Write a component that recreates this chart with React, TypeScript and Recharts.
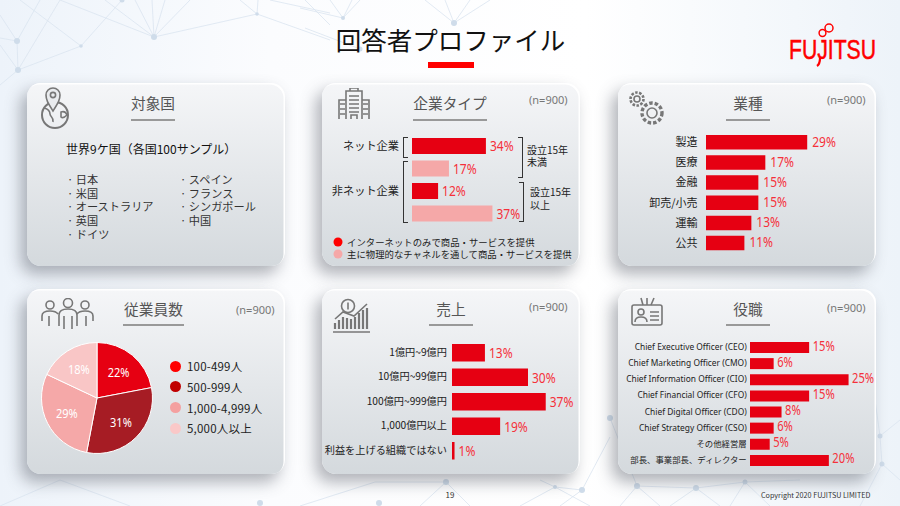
import React from "react";
import { BarChart, Bar, XAxis, YAxis, Cell, LabelList, PieChart, Pie } from "recharts";

const RED = "#E60012";
const PINK = "#F5A8A8";
const LABEL_RED = "#F5303A";
const FONT = '"Noto Sans CJK JP", sans-serif';
const LATIN = '"Noto Sans", sans-serif';

// 対象国
const countriesLeft = ["日本", "米国", "オーストラリア", "英国", "ドイツ"];
const countriesRight = ["スペイン", "フランス", "シンガポール", "中国"];

// 企業タイプ
const typeCategories = ["設立15年未満・ネット企業", "設立15年未満・非ネット企業", "設立15年以上・ネット企業", "設立15年以上・非ネット企業"];
const typeValues = [34, 17, 12, 37];
const typeColors = [RED, PINK, RED, PINK];

// 業種
const industryCategories = ["製造", "医療", "金融", "卸売/小売", "運輸", "公共"];
const industryValues = [29, 17, 15, 15, 13, 11];

// 従業員数
const employeeCategories = ["100-499人", "500-999人", "1,000-4,999人", "5,000人以上"];
const employeeValues = [22, 31, 29, 18];
const employeeColors = [RED, "#A61C24", "#F5A8A8", "#F9C6C6"];
const employeeDots = ["#FF0000", "#C00000", "#F4A0A0", "#FAC8C8"];

// 売上
const salesCategories = ["1億円~9億円", "10億円~99億円", "100億円~999億円", "1,000億円以上", "利益を上げる組織ではない"];
const salesValues = [13, 30, 37, 19, 1];

// 役職
const roleCategories = [
  "Chief Executive Officer (CEO)",
  "Chief Marketing Officer (CMO)",
  "Chief Information Officer (CIO)",
  "Chief Financial Officer (CFO)",
  "Chief Digital Officer (CDO)",
  "Chief Strategy Officer (CSO)",
  "その他経営層",
  "部長、事業部長、ディレクター",
];
const roleValues = [15, 6, 25, 15, 8, 6, 5, 20];

const toRows = (cats: string[], vals: number[]) => cats.map((name, i) => ({ name, value: vals[i] }));

function Card({ x, y, h = 183, title, titleX, lineW = 44, lineTop = 36, n = true, nX = 0, nTop = 9, children }: any) {
  return (
    <div
      style={{
        position: "absolute",
        left: x,
        top: y,
        width: 258,
        height: h,
        borderRadius: 14,
        background: "linear-gradient(#f5f6f8, #d4d9dd)",
        boxShadow: "inset -1.5px 1.5px 0 #fff, -6px 8px 16px rgba(70,75,85,0.42)",
      }}
    >
      <div
        style={{
          position: "absolute",
          left: titleX - 50,
          width: 100,
          top: 10,
          textAlign: "center",
          fontSize: 14.7,
          color: "#555",
          lineHeight: "20px",
        }}
      >
        {title}
      </div>
      <div style={{ position: "absolute", left: titleX - lineW / 2, width: lineW, top: lineTop, height: 1.5, background: "#999" }} />
      {n && (
        <div style={{ position: "absolute", left: nX, top: nTop, fontSize: 11, color: "#777", fontFamily: LATIN }}>
          (n=900)
        </div>
      )}
      {children}
    </div>
  );
}

function PercentLabel({ x, y, width, height, value, fontSize = 15, gap = 4, dy = 0 }: any) {
  return (
    <text
      transform={`translate(${x + width + gap},${y + height / 2 + fontSize * 0.36 + dy}) scale(0.8,1)`}
      fill={LABEL_RED}
      fontSize={fontSize}
      fontFamily={LATIN}
    >
      {value}%
    </text>
  );
}

function AxisTick({ x, y, payload, size, gap }: any) {
  const text = payload.value as string;
  const latin = /^[\x00-\x7F]+$/.test(text);
  return (
    <text
      x={x - gap}
      y={y + size * 0.36}
      textAnchor="end"
      fontSize={size}
      fill="#222"
      fontFamily={latin ? LATIN : FONT}
    >
      {text}
    </text>
  );
}

function HBars({ left, top, width, height, axisWidth, max, rows, barSize, tickSize: fontSize, tickGap, colors, labelSize, labelGap, labelDy }: any) {
  return (
    <div style={{ position: "absolute", left, top }}>
      <BarChart
        width={width}
        height={height}
        layout="vertical"
        data={rows}
        margin={{ top: 0, right: 0, bottom: 0, left: 0 }}
      >
        <XAxis type="number" hide domain={[0, max]} />
        <YAxis
          type="category"
          dataKey="name"
          hide={!axisWidth}
          width={axisWidth}
          axisLine={false}
          tickLine={false}
          tickSize={0}
          tickMargin={0}
          interval={0}
          tick={(p: any) => <AxisTick {...p} size={fontSize} gap={tickGap} />}
        />
        <Bar dataKey="value" barSize={barSize} fill={RED} isAnimationActive={false}>
          {colors && rows.map((r: any, i: number) => <Cell key={r.name} fill={colors[i]} />)}
          <LabelList
            dataKey="value"
            content={(p: any) => <PercentLabel {...p} fontSize={labelSize} gap={labelGap} dy={labelDy} />}
          />
        </Bar>
      </BarChart>
    </div>
  );
}

const iconStroke = { fill: "none", stroke: "#777", strokeWidth: 1.6 };

function Background() {
  return (
    <svg width={900} height={506} style={{ position: "absolute", left: 0, top: 0 }}>
      <defs>
        <linearGradient id="bg" x1="0" y1="0" x2="1" y2="0">
          <stop offset="0" stopColor="#edf3fa" />
          <stop offset="0.3" stopColor="#fbfcfe" />
          <stop offset="0.65" stopColor="#ffffff" />
          <stop offset="1" stopColor="#edf3f9" />
        </linearGradient>
      </defs>
      <rect width={900} height={506} fill="url(#bg)" />
      <g stroke="#dbe5f0" strokeWidth={0.8} fill="none">
        <path d="M154 37L60 0M154 37L105 0M154 37L135 0M154 37L152 0M154 37L165 0M154 37L190 0M154 37L257 14L330 40M257 14L240 0M257 14L258 0M270 0L330 13M305 0L330 25" />
        <path d="M81 46L20 0M81 46L122 0M81 46L18 70L60 0M18 70L0 45M18 70L0 85M18 70L17 41L40 0M17 41L0 15M17 41L0 38" />
        <path d="M343 18L330 0M343 18L352 0M343 18L360 0M343 18L300 8M454 23L425 0M454 23L445 0M454 23L470 0M454 23L490 0M360 49L305 28" />
        <path d="M0 506L60 480L130 506M446 482L375 482L300 506M446 482L420 506M446 482L470 506M555 487L520 506M555 487L582 490L610 437M555 487L590 506M582 490L560 506M555 487L540 480" />
        <path d="M637 486L696 488L745 482M637 486L610 418M637 486L620 506M637 486L660 506M696 488L670 506M696 488L720 506M745 482L770 506M745 482L730 506M880 436L900 420M880 436L882 464L900 480M880 436L875 400M882 464L860 506M745 482L800 480" />
      </g>
      <g fill="#cfdcea">
        <circle cx={154} cy={37} r={3} />
        <circle cx={257} cy={14} r={1.8} />
        <circle cx={81} cy={46} r={1.8} />
        <circle cx={17} cy={41} r={3} />
        <circle cx={18} cy={70} r={3} />
        <circle cx={122} cy={0} r={2.5} />
        <circle cx={343} cy={18} r={2} />
        <circle cx={454} cy={23} r={3} />
        <circle cx={360} cy={49} r={2.5} />
        <circle cx={260} cy={503} r={3} />
        <circle cx={379} cy={503} r={3} />
        <circle cx={446} cy={482} r={3} />
        <circle cx={555} cy={487} r={2} />
        <circle cx={582} cy={490} r={3} />
        <circle cx={610} cy={418} r={3} />
        <circle cx={637} cy={486} r={3} />
        <circle cx={696} cy={488} r={3} />
        <circle cx={745} cy={482} r={2.5} />
        <circle cx={880} cy={436} r={2.5} />
        <circle cx={882} cy={464} r={2.5} />
      </g>
    </svg>
  );
}

function FujitsuLogo() {
  return (
    <svg width={900} height={80} style={{ position: "absolute", left: 0, top: 0 }}>
      <text
        x={789}
        y={59}
        fill="#F00"
        stroke="#F00"
        strokeWidth={0.5}
        fontSize={27}
        fontFamily='"Liberation Sans", sans-serif'
        textLength={87}
        lengthAdjust="spacingAndGlyphs"
      >
        FUJITSU
      </text>
      <g fill="none" stroke="#F00" strokeWidth={1.5}>
        <circle cx={822.5} cy={33} r={3.4} />
        <circle cx={829} cy={28} r={4} />
        <path d="M820 58Q820 64 817 66" strokeWidth={2.2} />
      </g>
    </svg>
  );
}

export default function App() {
  const bracket = (l: number, t: number, w: number, h: number, side: "left" | "right") => (
    <div
      style={{
        position: "absolute",
        left: l,
        top: t,
        width: w,
        height: h,
        boxSizing: "border-box",
        borderTop: "1px solid #333",
        borderBottom: "1px solid #333",
        [side === "left" ? "borderLeft" : "borderRight"]: "1px solid #333",
      }}
    />
  );

  return (
    <div style={{ position: "fixed", left: 0, top: 0, width: 900, height: 506, overflow: "hidden", fontFamily: FONT }}>
      <Background />

      <div style={{ position: "absolute", left: 300, width: 301, top: 20, textAlign: "center", fontSize: 25.5, lineHeight: "38px", color: "#111" }}>
        回答者プロファイル
      </div>
      <div style={{ position: "absolute", left: 428, top: 62, width: 46, height: 5.5, background: "#FF0000" }} />
      <FujitsuLogo />

      {/* 対象国 */}
      <Card x={27} y={83} title="対象国" titleX={126} n={false}>
        <svg width={34} height={46} style={{ position: "absolute", left: 12, top: 3 }}>
          <circle cx={16} cy={29} r={13} {...iconStroke} strokeWidth={2} />
          <path d="M5 22c4 1 6 3 6 6s4 3 3 8M22 26c3-1 5 0 6 3-2 2-4 4-6 2z" {...iconStroke} />
          <path d="M14 25C9 17 7 14 7 9a7 7 0 0 1 14 0c0 5-2 8-7 16z" {...iconStroke} fill="#e9ebee" />
          <circle cx={14} cy={9} r={2.6} {...iconStroke} />
        </svg>
        <div style={{ position: "absolute", left: 39, top: 56.5, fontSize: 12, color: "#111", whiteSpace: "nowrap" }}>世界9ケ国（各国100サンプル）</div>
        <div style={{ position: "absolute", left: 40, top: 90, fontSize: 11.2, lineHeight: "13.7px", color: "#333" }}>
          {countriesLeft.map((c) => (
            <div key={c}>· {c}</div>
          ))}
        </div>
        <div style={{ position: "absolute", left: 153, top: 90, fontSize: 11.2, lineHeight: "13.7px", color: "#333" }}>
          {countriesRight.map((c) => (
            <div key={c}>· {c}</div>
          ))}
        </div>
      </Card>

      {/* 企業タイプ */}
      <Card x={322} y={83} title="企業タイプ" titleX={128} lineW={74} nX={207}>
        <svg width={34} height={32} style={{ position: "absolute", left: 16, top: 5 }}>
          <path d="M1 31V12H8V31M8 31V3H24V31M24 12H31V31M12 3V0H20V3M11 8H21M11 12H21M11 16H21M11 20H21M11 24H21M2 16H7M2 21H7M2 26H7M25 16H30M25 21H30M25 26H30M13 31V27H19V31" {...iconStroke} />
        </svg>
        <div style={{ position: "absolute", left: 0, width: 77, top: 54, textAlign: "right", fontSize: 11.2, color: "#222" }}>ネット企業</div>
        <div style={{ position: "absolute", left: 0, width: 77, top: 99, textAlign: "right", fontSize: 11.2, color: "#222" }}>非ネット企業</div>
        {bracket(81, 53.7, 5, 21, "left")}
        {bracket(81, 77.7, 5, 62.5, "left")}
        {bracket(196, 53.7, 5, 41, "right")}
        {bracket(197, 99, 5, 40, "right")}
        <div style={{ position: "absolute", left: 205, top: 60.5, fontSize: 10, lineHeight: "12.7px", color: "#222", whiteSpace: "nowrap" }}>
          設立15年
          <br />
          未満
        </div>
        <div style={{ position: "absolute", left: 208, top: 103, fontSize: 10, lineHeight: "12.7px", color: "#222", whiteSpace: "nowrap" }}>
          設立15年
          <br />
          以上
        </div>
        <svg width={10} height={24} style={{ position: "absolute", left: 11, top: 154 }}>
          <circle cx={5} cy={5} r={4.5} fill="#FF0000" />
          <circle cx={5} cy={17} r={4.5} fill="#F5A8A8" />
        </svg>
        <div style={{ position: "absolute", left: 25, top: 153, fontSize: 9.4, lineHeight: "12px", color: "#222", whiteSpace: "nowrap" }}>
          インターネットのみで商品・サービスを提供
          <br />
          主に物理的なチャネルを通して商品・サービスを提供
        </div>
      </Card>
      <HBars left={411.5} top={135} width={150} height={90} max={69} rows={toRows(typeCategories, typeValues)} barSize={16} colors={typeColors} labelSize={15} labelGap={4} labelDy={0} />

      {/* 業種 */}
      <Card x={618} y={83} title="業種" titleX={130} nX={209}>
        <svg width={42} height={40} style={{ position: "absolute", left: 10, top: 7 }}>
          <circle cx={9} cy={9} r={6.5} {...iconStroke} strokeDasharray="2.5 1.5" strokeWidth={2.6} />
          <circle cx={9} cy={9} r={3} {...iconStroke} />
          <circle cx={24} cy={23} r={10} {...iconStroke} strokeDasharray="3.5 2" strokeWidth={3.4} />
          <circle cx={24} cy={23} r={5} {...iconStroke} />
        </svg>
      </Card>
      <HBars left={636} top={131.6} width={244.5} height={121} axisWidth={70} max={50} rows={toRows(industryCategories, industryValues)} barSize={14.5} tickSize={11} tickGap={8.5} labelSize={15} labelGap={5} labelDy={-1} />

      {/* 従業員数 */}
      <Card x={27} y={289} h={185} title="従業員数" titleX={126.5} lineW={61} lineTop={35} nX={209} nTop={13}>
        <svg width={54} height={32} style={{ position: "absolute", left: 14, top: 9 }}>
          <circle cx={9} cy={7} r={4} {...iconStroke} />
          <circle cx={27} cy={5} r={4.5} {...iconStroke} />
          <circle cx={44} cy={7} r={4} {...iconStroke} />
          <path d="M1 23V18Q1 13 9 13Q15 13 17 16M18 28V17Q18 11 27 11Q36 11 36 17V28M52 23V18Q52 13 44 13Q38 13 36 16M8 18V28M23 18V31M31 18V31M45 18V28" {...iconStroke} />
        </svg>
        <div style={{ position: "absolute", left: 13, top: 52 }}>
          <PieChart width={114} height={114} margin={{ top: 0, right: 0, bottom: 0, left: 0 }}>
            <Pie
              data={toRows(employeeCategories, employeeValues).map((r, i) => ({ ...r, fill: employeeColors[i] }))}
              dataKey="value"
              cx="50%"
              cy="50%"
              outerRadius={55.5}
              startAngle={90}
              endAngle={-270}
              stroke="#fff"
              strokeWidth={1}
              isAnimationActive={false}
              labelLine={false}
              label={({ cx, cy, midAngle, outerRadius, value }: any) => {
                const r = outerRadius * 0.61;
                const a = (-midAngle * Math.PI) / 180;
                return (
                  <text
                    transform={`translate(${cx + r * Math.cos(a)},${cy + r * Math.sin(a)}) scale(0.85,1)`}
                    fill="#fff"
                    fontSize={13}
                    fontFamily={LATIN}
                    textAnchor="middle"
                    dominantBaseline="central"
                  >
                    {value}%
                  </text>
                );
              }}
            />
          </PieChart>
        </div>
        {employeeCategories.map((c, i) => (
          <div key={c} style={{ position: "absolute", left: 142.5, top: 71.3 + i * 20.6, height: 12, display: "flex", alignItems: "center" }}>
            <span style={{ width: 11, height: 11, borderRadius: "50%", background: employeeDots[i], marginRight: 6.5 }} />
            <span style={{ fontSize: 11.5, color: "#222", whiteSpace: "nowrap", letterSpacing: 0.2 }}>{c}</span>
          </div>
        ))}
      </Card>

      {/* 売上 */}
      <Card x={322} y={289} h={185} title="売上" titleX={129} lineTop={35} nX={207} nTop={10}>
        <svg width={40} height={36} style={{ position: "absolute", left: 10, top: 9 }}>
          <circle cx={16} cy={8} r={6.5} {...iconStroke} />
          <path d="M16 4.5V11.5" {...iconStroke} />
          <path d="M3 21L11 14L22 18L35 6" {...iconStroke} />
          <path d="M3 31V25M7 31V22M11 31V19M15 31V20M19 31V21M23 31V19M27 31V15M31 31V12M35 31V10" {...iconStroke} strokeWidth={2.2} />
          <path d="M1 34H38" {...iconStroke} />
        </svg>
      </Card>
      <HBars left={322} top={339.7} width={282} height={122.5} axisWidth={130} max={60} rows={toRows(salesCategories, salesValues)} barSize={17.5} tickSize={10.2} tickGap={5} labelSize={15} labelGap={4} labelDy={0} />

      {/* 役職 */}
      <Card x={618} y={289} h={185} title="役職" titleX={130} lineTop={35} nX={209} nTop={11}>
        <svg width={34} height={30} style={{ position: "absolute", left: 13, top: 8 }}>
          <rect x={1} y={8} width={30} height={20} rx={2} {...iconStroke} />
          <path d="M12 8L10 1M16 8V1M20 8L23 1" {...iconStroke} />
          <circle cx={10} cy={15} r={3} {...iconStroke} />
          <path d="M4 25Q4 20 10 20Q16 20 16 25M19 15H28M19 19H28M19 23H28" {...iconStroke} />
        </svg>
      </Card>
      <HBars left={622} top={338.6} width={266} height={129} axisWidth={128} max={35} rows={toRows(roleCategories, roleValues)} barSize={11} tickSize={8.4} tickGap={3.3} labelSize={14} labelGap={3.5} labelDy={-2} />

      <div style={{ position: "absolute", left: 440, width: 20, top: 489, textAlign: "center", fontSize: 8, color: "#333" }}>19</div>
      <div style={{ position: "absolute", left: 761, top: 490, fontSize: 7.2, color: "#333", whiteSpace: "nowrap" }}>
        Copyright 2020 FUJITSU LIMITED
      </div>
    </div>
  );
}
